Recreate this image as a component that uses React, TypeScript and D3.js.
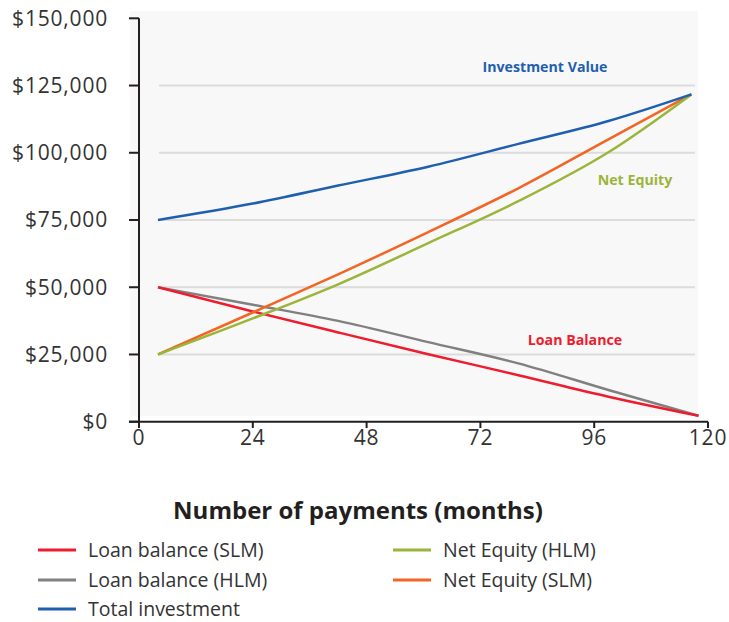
import React from "react";
import * as d3 from "d3";

const monthsInv = [4, 24, 42, 61, 80, 99, 116.5];
const monthsLoan = [4, 24, 42, 61, 80, 99, 118];
const investment = [75000, 81100, 87800, 94800, 103300, 111800, 121700];
const netEquitySLM = [25000, 40600, 54800, 70500, 86800, 105000, 121700];
const netEquityHLM = [25000, 38400, 51100, 66400, 82000, 100200, 121700];
const loanSLM = [50000, 41000, 33200, 25100, 17300, 9300, 2200];
const loanHLM = [50000, 43500, 37500, 29600, 21700, 11800, 2200];

const xTicks = [0, 24, 48, 72, 96, 120];
const yTicks = [0, 25000, 50000, 75000, 100000, 125000, 150000];
const gridTicks = [25000, 50000, 75000, 100000, 125000];

const legendItems = [
  { label: "Loan balance (SLM)", color: "#ed1c2e", col: 0, row: 0 },
  { label: "Loan balance (HLM)", color: "#808080", col: 0, row: 1 },
  { label: "Total investment", color: "#1f5fb0", col: 0, row: 2 },
  { label: "Net Equity (HLM)", color: "#9bb53a", col: 1, row: 0 },
  { label: "Net Equity (SLM)", color: "#f26522", col: 1, row: 1 },
];

const annotations = [
  { text: "Investment Value", color: "#1f5fb0", x: 545, y: 72 },
  { text: "Net Equity", color: "#9bb53a", x: 635, y: 185 },
  { text: "Loan Balance", color: "#ed1c2e", x: 575, y: 345 },
];

export default function App() {
  const x = d3.scaleLinear().domain([0, 120]).range([139, 708]);
  const y = d3.scaleLinear().domain([0, 150000]).range([421.7, 18.3]);
  const line = d3
    .line<[number, number]>()
    .x((d) => x(d[0]))
    .y((d) => y(d[1]))
    .curve(d3.curveMonotoneX);
  const zip = (ms: number[], vs: number[]) => ms.map((m, i) => [m, vs[i]] as [number, number]);

  const series = [
    { vals: zip(monthsLoan, loanHLM), color: "#808080" },
    { vals: zip(monthsLoan, loanSLM), color: "#ed1c2e" },
    { vals: zip(monthsInv, netEquitySLM), color: "#f26522" },
    { vals: zip(monthsInv, netEquityHLM), color: "#9bb53a" },
    { vals: zip(monthsInv, investment), color: "#1f5fb0" },
  ];

  const font = "'Open Sans', 'Noto Sans', sans-serif";
  const axisColor = "#231f20";
  const legendRows = [550, 580, 609];

  return (
    <div style={{ position: "absolute", left: 0, top: 0 }}>
      <svg width={729} height={622} style={{ display: "block", background: "#fff" }}>
        <rect x={130} y={11} width={568} height={405} fill="#f8f8f8" />
        {gridTicks.map((t) => (
          <line key={t} x1={159} x2={695} y1={y(t)} y2={y(t)} stroke="#dcdcdc" strokeWidth={2} />
        ))}
        {series.map((s, i) => (
          <path key={i} d={line(s.vals) || ""} fill="none" stroke={s.color} strokeWidth={2.5} />
        ))}
        <line x1={139} x2={139} y1={y(150000)} y2={428} stroke={axisColor} strokeWidth={2} />
        <line x1={129} x2={x(120)} y1={y(0)} y2={y(0)} stroke={axisColor} strokeWidth={2} />
        {yTicks.map((t) => (
          <g key={t}>
            <line x1={129} x2={139} y1={y(t)} y2={y(t)} stroke={axisColor} strokeWidth={2} />
            <text
              x={108}
              y={y(t)}
              dy="0.35em"
              textAnchor="end"
              fontFamily={font}
              fontSize={21}
              letterSpacing={0.8}
              fill="#333"
            >
              {"$" + d3.format(",")(t)}
            </text>
          </g>
        ))}
        {xTicks.map((t) => (
          <g key={t}>
            <line x1={x(t)} x2={x(t)} y1={y(0)} y2={428} stroke={axisColor} strokeWidth={2} />
            <text
              x={x(t)}
              y={445}
              textAnchor="middle"
              fontFamily={font}
              fontSize={21}
              letterSpacing={0.8}
              fill="#333"
            >
              {t}
            </text>
          </g>
        ))}
        <text
          x={358}
          y={519}
          textAnchor="middle"
          fontFamily={font}
          fontWeight="bold"
          fontSize={24}
          fill="#231f20"
        >
          Number of payments (months)
        </text>
        {annotations.map((a) => (
          <text
            key={a.text}
            x={a.x}
            y={a.y}
            textAnchor="middle"
            fontFamily={font}
            fontWeight="bold"
            fontSize={14.2}
            fill={a.color}
          >
            {a.text}
          </text>
        ))}
        {legendItems.map((it) => {
          const lx = it.col === 0 ? 38 : 393;
          const ly = legendRows[it.row];
          return (
            <g key={it.label}>
              <line x1={lx} x2={lx + 38} y1={ly} y2={ly} stroke={it.color} strokeWidth={3} />
              <text
                x={lx + 50}
                y={ly}
                dy="0.35em"
                fontFamily={font}
                fontSize={19.5}
                fill="#333"
              >
                {it.label}
              </text>
            </g>
          );
        })}
      </svg>
    </div>
  );
}
